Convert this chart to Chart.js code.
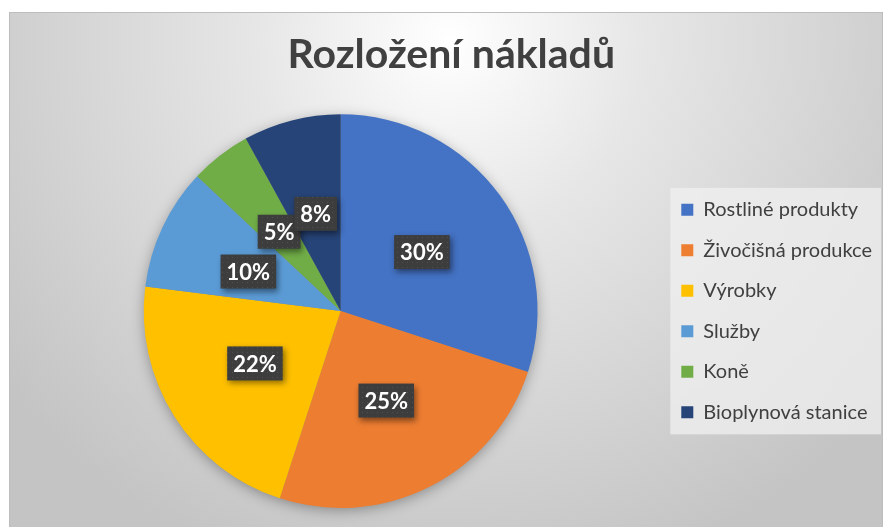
<!DOCTYPE html>
<html><head><meta charset="utf-8">
<script src="https://cdn.jsdelivr.net/npm/chart.js@4/dist/chart.umd.min.js"></script>
<style>html,body{margin:0;padding:0;background:#fff;}#wrap{width:885px;height:527px;}</style>
</head><body><div id="wrap"><canvas id="c" width="885" height="527"></canvas></div>
<script>
const categories = ['Rostliné produkty', 'Živočišná produkce', 'Výrobky', 'Služby', 'Koně', 'Bioplynová stanice'];
const values = [30, 25, 22, 10, 5, 8];
const colors = ['#4472C4', '#ED7D31', '#FFC000', '#5B9BD5', '#70AD47', '#264478'];
const titleText = 'Rozložení nákladů';

const FONT = 'Lato, "Open Sans", "Noto Sans", sans-serif';

const bgPlugin = {
  id: 'bg',
  beforeDraw(chart) {
    const ctx = chart.ctx;
    ctx.save();
    ctx.fillStyle = '#fff';
    ctx.fillRect(0, 0, chart.width, chart.height);
    const x0 = 9, y0 = 12, x1 = 883, y1 = chart.height + 2;
    const g = ctx.createRadialGradient(450, 40, 0, 450, 40, 560);
    g.addColorStop(0, '#ffffff');
    g.addColorStop(0.35, '#e6e6e6');
    g.addColorStop(1, '#c4c4c4');
    ctx.fillStyle = g;
    ctx.fillRect(x0, y0, x1 - x0, y1 - y0);
    ctx.strokeStyle = '#bdbdbd';
    ctx.lineWidth = 1;
    ctx.strokeRect(x0 + 0.5, y0 + 0.5, x1 - x0 - 1, y1 - y0);
    const lg = chart.legend;
    if (lg && lg.legendHitBoxes && lg.legendHitBoxes.length) {
      const hb = lg.legendHitBoxes;
      const first = hb[0], last = hb[hb.length - 1];
      const lx = first.left - 11, ly = first.top - 12;
      const lr = 881, lb = last.top + last.height + 12;
      ctx.fillStyle = 'rgba(240,240,240,0.75)';
      ctx.fillRect(lx, ly, lr - lx, lb - ly);
    }
    ctx.restore();
  }
};

const pieShadow = {
  id: 'pieShadow',
  beforeDatasetsDraw(chart) {
    const el = chart.getDatasetMeta(0).data[0];
    if (!el) return;
    const ctx = chart.ctx;
    ctx.save();
    ctx.shadowColor = 'rgba(0,0,0,0.35)';
    ctx.shadowBlur = 14;
    ctx.shadowOffsetX = 0;
    ctx.shadowOffsetY = 3;
    ctx.fillStyle = '#888';
    ctx.beginPath();
    ctx.arc(el.x, el.y, el.outerRadius - 1, 0, Math.PI * 2);
    ctx.fill();
    ctx.restore();
  }
};

let dotPattern = null;
function getPattern(ctx) {
  if (dotPattern) return dotPattern;
  const pc = document.createElement('canvas');
  pc.width = 5; pc.height = 5;
  const p = pc.getContext('2d');
  p.fillStyle = 'rgba(255,255,255,0.10)';
  p.fillRect(2, 2, 1, 1);
  dotPattern = ctx.createPattern(pc, 'repeat');
  return dotPattern;
}

const labelNudgeDeg = [0, 0, 1, -2, 0, 0];

const dataLabels = {
  id: 'dataLabels',
  afterDatasetsDraw(chart) {
    const ctx = chart.ctx;
    const meta = chart.getDatasetMeta(0);
    const data = chart.data.datasets[0].data;
    const total = data.reduce((a, b) => a + b, 0);
    ctx.save();
    ctx.font = 'bold 22px ' + FONT;
    ctx.textAlign = 'center';
    ctx.textBaseline = 'middle';
    meta.data.forEach((el, i) => {
      const mid = (el.startAngle + el.endAngle) / 2 + labelNudgeDeg[i] * Math.PI / 180;
      const d = el.outerRadius * 0.51;
      const cx = el.x + Math.cos(mid) * d;
      const cy = el.y + Math.sin(mid) * d;
      const txt = Math.round(data[i] / total * 100) + '%';
      const tw = ctx.measureText(txt).width;
      const w = tw + 12, h = 34;
      ctx.save();
      ctx.shadowColor = 'rgba(0,0,0,0.45)';
      ctx.shadowBlur = 6;
      ctx.shadowOffsetX = 2;
      ctx.shadowOffsetY = 3;
      ctx.fillStyle = '#3d3d3d';
      ctx.fillRect(cx - w / 2, cy - h / 2, w, h);
      ctx.restore();
      ctx.fillStyle = getPattern(ctx);
      ctx.fillRect(cx - w / 2, cy - h / 2, w, h);
      ctx.fillStyle = '#ffffff';
      ctx.fillText(txt, cx, cy + 1);
    });
    ctx.restore();
  }
};

new Chart(document.getElementById('c'), {
  type: 'pie',
  data: {
    labels: categories,
    datasets: [{ data: values, backgroundColor: colors, borderWidth: 0, hoverOffset: 0 }]
  },
  options: {
    responsive: false,
    animation: false,
    devicePixelRatio: 1,
    layout: { padding: { left: 20.5, right: 3, top: 18, bottom: 19 } },
    plugins: {
      title: {
        display: true, text: titleText, color: '#404040',
        font: { family: FONT, size: 41, weight: 'bold' },
        padding: { top: 12, bottom: 35 }
      },
      legend: {
        position: 'right',
        fullSize: false,
        labels: {
          color: '#404040',
          font: { family: FONT, size: 20 },
          boxWidth: 12, boxHeight: 12, padding: 20.5
        }
      },
      tooltip: { enabled: false }
    }
  },
  plugins: [bgPlugin, pieShadow, dataLabels]
});
</script>
</body></html>
